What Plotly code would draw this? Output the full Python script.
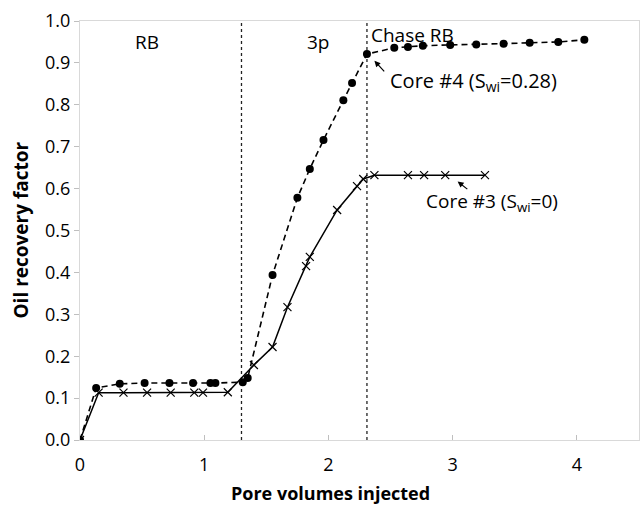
import plotly.graph_objects as go

# Core #4 (Swi=0.28) - dots, dashed line
core4_x = [0.0, 0.13, 0.32, 0.52, 0.72, 0.91, 1.05, 1.09, 1.31, 1.35, 1.55, 1.75, 1.85, 1.96, 2.12, 2.19, 2.31,
           2.53, 2.64, 2.76, 2.98, 3.19, 3.41, 3.62, 3.85, 4.06]
core4_y = [0.0, 0.124, 0.134, 0.136, 0.136, 0.136, 0.136, 0.136, 0.138, 0.148, 0.394, 0.578, 0.647, 0.716, 0.811, 0.852, 0.921,
           0.936, 0.938, 0.941, 0.943, 0.944, 0.946, 0.948, 0.950, 0.955]

# Core #3 (Swi=0) - crosses, solid line
core3_x = [0.0, 0.15, 0.35, 0.54, 0.73, 0.92, 0.99, 1.19, 1.40, 1.55, 1.67, 1.82, 1.85, 2.07, 2.23, 2.28, 2.37,
           2.64, 2.77, 2.94, 3.26]
core3_y = [0.0, 0.113, 0.113, 0.113, 0.113, 0.113, 0.113, 0.114, 0.179, 0.222, 0.317, 0.415, 0.437, 0.549, 0.606, 0.623, 0.632,
           0.632, 0.632, 0.632, 0.632]

stage_bounds = [1.30, 2.31]
stage_labels = ["RB", "3p", "Chase RB"]
stage_label_x = [0.54, 1.92, 2.33]

FONT = "Open Sans"

fig = go.Figure()

for xb in stage_bounds:
    fig.add_trace(go.Scatter(x=[xb, xb], y=[0, 1.0], mode="lines",
                             line=dict(color="#222222", width=1.3, dash="3px,3px"),
                             showlegend=False, hoverinfo="skip"))

fig.add_trace(go.Scatter(x=core4_x, y=core4_y, mode="lines+markers", name="Core #4",
                         line=dict(color="black", width=1.6, dash="6px,4px"),
                         marker=dict(symbol="circle", size=8, color="black"),
                         showlegend=False))
fig.add_trace(go.Scatter(x=core3_x, y=core3_y, mode="lines+markers", name="Core #3",
                         line=dict(color="black", width=1.5),
                         marker=dict(symbol="x-thin", size=8, line=dict(color="black", width=1.2)),
                         showlegend=False))

annotations = []
annotations.append(dict(x=stage_label_x[0], y=0.95, text=stage_labels[0], showarrow=False,
                        xanchor="center", yanchor="middle", font=dict(size=19, color="black", family=FONT)))
annotations.append(dict(x=stage_label_x[1], y=0.95, text=stage_labels[1], showarrow=False,
                        xanchor="center", yanchor="middle", font=dict(size=19, color="black", family=FONT)))
annotations.append(dict(x=stage_label_x[2], y=0.967, text=stage_labels[2], showarrow=False,
                        xanchor="left", yanchor="middle", font=dict(size=19, color="black", family=FONT)))
annotations.append(dict(x=2.48, y=0.855, text="Core #4 (S<sub>wi</sub>=0.28)", showarrow=False,
                        xanchor="left", yanchor="middle", font=dict(size=20, color="black", family=FONT)))
annotations.append(dict(x=2.37, y=0.905, ax=2.46, ay=0.876, axref="x", ayref="y", text="", showarrow=True,
                        arrowhead=2, arrowsize=1, arrowwidth=1.2, arrowcolor="black"))
annotations.append(dict(x=2.77, y=0.568, text="Core #3 (S<sub>wi</sub>=0)", showarrow=False,
                        xanchor="left", yanchor="middle", font=dict(size=19, color="black", family=FONT)))
annotations.append(dict(x=3.04, y=0.617, ax=3.13, ay=0.596, axref="x", ayref="y", text="", showarrow=True,
                        arrowhead=2, arrowsize=1, arrowwidth=1.2, arrowcolor="black"))
# axis titles (bottom of plot at 440px, x title centre at ~493px; plot height 419px)
annotations.append(dict(x=0.449, y=-(493 - 440) / 419, xref="paper", yref="paper",
                        text="<b>Pore volumes injected</b>",
                        showarrow=False, xanchor="center", yanchor="middle",
                        font=dict(size=18, color="black", family=FONT)))
annotations.append(dict(x=0, y=0.5, xref="paper", yref="paper", text="<b>Oil recovery factor</b>",
                        showarrow=False, xanchor="center", yanchor="middle", textangle=-90, xshift=-60,
                        font=dict(size=19, color="black", family=FONT)))

fig.update_layout(
    width=640, height=509,
    margin=dict(l=80, r=1, t=21, b=69),
    paper_bgcolor="white", plot_bgcolor="white",
    font=dict(family=FONT, color="black"),
    annotations=annotations,
    xaxis=dict(range=[0, 4.5], tickvals=[0, 1, 2, 3, 4], ticktext=["0", "1", "2", "3", "4"],
               showgrid=False, zeroline=False, showline=True, linecolor="#d9d9d9", linewidth=1, mirror=True,
               ticks="inside", ticklen=5, tickcolor="#bfbfbf", ticklabelstandoff=8,
               tickfont=dict(size=18, family=FONT, color="black")),
    yaxis=dict(range=[0, 1.0], tickvals=[i / 10 for i in range(11)],
               ticktext=["0.0", "0.1", "0.2", "0.3", "0.4", "0.5", "0.6", "0.7", "0.8", "0.9", "1.0"],
               showgrid=False, zeroline=False, showline=True, linecolor="#d9d9d9", linewidth=1, mirror=True,
               ticks="outside", ticklen=5, tickcolor="#bfbfbf",
               tickfont=dict(size=18, family=FONT, color="black")),
)

fig.write_html("out.html")
